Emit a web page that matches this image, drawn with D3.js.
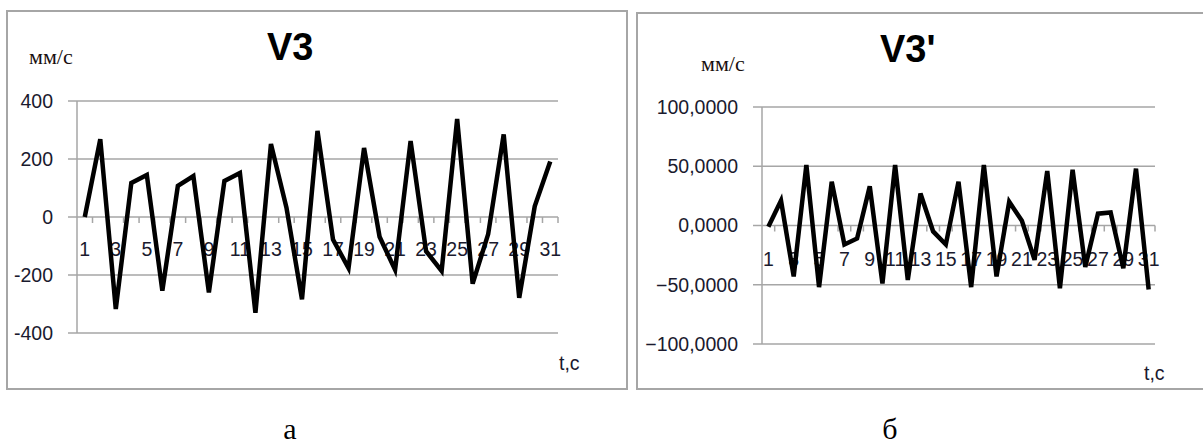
<!DOCTYPE html>
<meta charset="utf-8">
<style>
body {
    margin: 0;
    background: #fff;
}
.frame {
    fill: none;
    stroke: #a6a6a6;
    stroke-width: 2px;
}
.grid line {
    stroke: #a6a6a6;
    stroke-width: 1.5px;
}
.series {
    fill: none;
    stroke: #000;
    stroke-width: 4.5px;
    stroke-linejoin: miter;
}
.tick-label {
    font-family: 'Liberation Sans', Arial, sans-serif;
    font-size: 19.5px;
    fill: #1a1a2e;
}
.title {
    font-family: 'Liberation Sans', Arial, sans-serif;
    font-weight: bold;
    font-size: 38px;
    fill: #000;
}
.unit {
    font-family: 'Liberation Serif', 'Times New Roman', serif;
    font-size: 22px;
    fill: #1a1010;
}
.caption {
    font-family: 'Liberation Serif', 'Times New Roman', serif;
    font-size: 30px;
    fill: #000;
}
</style>
<svg width="1203" height="444"></svg>

<script src="https://cdnjs.cloudflare.com/ajax/libs/d3/7.8.5/d3.min.js"></script>
<script>
// time steps 1..31
let steps = d3.range(1, 32);
let stepLabels = steps.filter(d => d % 2 === 1);

// V3, mm/s
let v3 = [0, 268, -317, 117, 145, -254, 107, 141, -260, 124, 152, -330, 252, 32, -284,
    297, -78, -176, 238, -68, -182, 262, -118, -186, 338, -230, -59, 285, -279, 37, 191];
let v3Ticks = [-400, -200, 0, 200, 400];

// V3', mm/s
let v3d = [-1, 21, -43, 51, -52, 37, -16, -11, 33, -49, 51, -46, 27, -5, -16,
    37, -52, 51, -43, 20, 4, -29, 46, -53, 47, -35, 10, 11, -36, 48, -54];
let v3dTicks = [-100, -50, 0, 50, 100];

let svg = d3.select('svg');

function drawChart(opt) {
    let g = svg.append('g');

    g.append('rect').attr('class', 'frame')
        .attr('x', opt.frame[0]).attr('y', opt.frame[1])
        .attr('width', opt.frame[2]).attr('height', opt.frame[3]);

    let x = d3.scaleBand()
        .domain(steps)
        .range([opt.left, opt.right]);

    let y = d3.scaleLinear()
        .domain([opt.ticks[0], opt.ticks[opt.ticks.length - 1]])
        .range([opt.bottom, opt.top]);

    // gridlines, with small outward ticks on the left
    g.append('g').attr('class', 'grid')
        .selectAll('line')
        .data(opt.ticks)
        .enter().append('line')
            .attr('x1', opt.left - 9)
            .attr('x2', opt.right)
            .attr('y1', d => y(d))
            .attr('y2', d => y(d));

    // value axis
    g.append('g').attr('class', 'grid')
        .append('line')
            .attr('x1', opt.left).attr('x2', opt.left)
            .attr('y1', opt.top).attr('y2', opt.bottom);

    // category ticks below the zero line
    g.append('g').attr('class', 'grid')
        .selectAll('line')
        .data(steps)
        .enter().append('line')
            .attr('x1', d => x(d) + x.bandwidth())
            .attr('x2', d => x(d) + x.bandwidth())
            .attr('y1', y(0))
            .attr('y2', y(0) + 6);

    g.selectAll('.ylab')
        .data(opt.ticks)
        .enter().append('text')
            .attr('class', 'tick-label')
            .attr('x', opt.left - 24)
            .attr('y', d => y(d))
            .attr('dy', '0.35em')
            .attr('text-anchor', 'end')
            .text(opt.fmt);

    g.selectAll('.xlab')
        .data(stepLabels)
        .enter().append('text')
            .attr('class', 'tick-label')
            .attr('x', d => x(d) + x.bandwidth() / 2)
            .attr('y', y(0) + opt.labelOffset)
            .attr('dy', '0.35em')
            .attr('text-anchor', 'middle')
            .text(d => d);

    let line = d3.line()
        .x((d, i) => x(steps[i]) + x.bandwidth() / 2)
        .y(d => y(d));

    g.append('path').attr('class', 'series')
        .datum(opt.values)
        .attr('d', line);

    g.append('text').attr('class', 'title')
        .attr('x', opt.titleX).attr('y', opt.titleY)
        .text(opt.title);

    g.append('text').attr('class', 'unit')
        .attr('x', opt.unitX).attr('y', opt.unitY)
        .text('мм/с');

    g.append('text').attr('class', 'tick-label')
        .attr('x', opt.tX).attr('y', opt.tY)
        .attr('dy', '0.35em')
        .text('t,c');
}

drawChart({
    frame: [7, 11, 620, 378],
    left: 77, right: 558, top: 101, bottom: 333,
    ticks: v3Ticks, values: v3,
    fmt: d => d,
    labelOffset: 32,
    title: 'V3', titleX: 267, titleY: 60,
    unitX: 29, unitY: 64,
    tX: 559, tY: 363
});

drawChart({
    frame: [637, 13, 580, 376],
    left: 762, right: 1155, top: 107, bottom: 344,
    ticks: v3dTicks, values: v3d,
    fmt: d => d3.format('.4f')(d).replace('.', ','),
    labelOffset: 34,
    title: "V3'", titleX: 880, titleY: 62,
    unitX: 701, unitY: 71,
    tX: 1144, tY: 373
});

svg.append('text').attr('class', 'caption')
    .attr('x', 290).attr('y', 439)
    .attr('text-anchor', 'middle')
    .text('а');

svg.append('text').attr('class', 'caption')
    .attr('x', 890).attr('y', 439)
    .attr('text-anchor', 'middle')
    .text('б');
</script>
